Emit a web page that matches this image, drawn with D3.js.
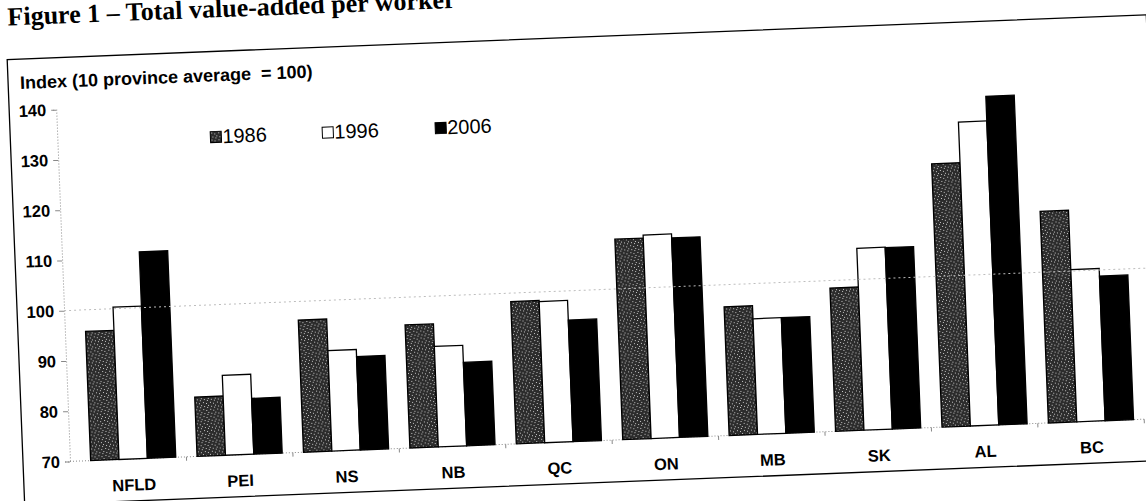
<!DOCTYPE html>
<html><head><meta charset="utf-8">
<script src="https://cdn.jsdelivr.net/npm/d3@7"></script>
<style>body{margin:0;background:#fff;overflow:hidden} svg{display:block}</style>
</head><body>
<svg id="c" width="1146" height="501"></svg>
<script>
const categories = ["NFLD","PEI","NS","NB","QC","ON","MB","SK","AL","BC"];
const seriesNames = ["1986","1996","2006"];
const values1986 = [95.7, 81.8, 96.3, 94.5, 98.3, 109.9, 95.6, 98.5, 122.4, 112.1];
const values1996 = [100.3, 85.9, 90.0, 90.0, 98.1, 110.5, 93.0, 106.2, 130.5, 100.3];
const values2006 = [111.1, 81.1, 88.6, 86.6, 94.2, 109.7, 93.0, 106.1, 135.4, 98.8];
const yTicks = [70, 80, 90, 100, 110, 120, 130, 140];
const referenceValue = 100;
const titleText = "Figure 1 \u2013 Total value-added per worker";
const yTitleText = "Index (10 province average  = 100)";

const seriesValues = [values1986, values1996, values2006];
const rows = categories.map((c, i) => ({cat: c, vals: seriesNames.map((s, j) => ({s, v: seriesValues[j][i]}))}));

const svg = d3.select("#c");
const defs = svg.append("defs");
const pat = defs.append("pattern").attr("id", "speck")
  .attr("patternUnits", "userSpaceOnUse").attr("width", 7).attr("height", 7);
pat.append("rect").attr("width", 7).attr("height", 7).attr("fill", "#2c2c2c");
const specks = [[1,1],[4,2],[2,5],[6,4],[5,6]];
pat.selectAll("rect.d").data(specks).join("rect").attr("class", "d")
  .attr("x", d => d[0]).attr("y", d => d[1]).attr("width", 1).attr("height", 1).attr("fill", "#c8c8c8");

const fills = {"1986": "url(#speck)", "1996": "#ffffff", "2006": "#000000"};

const g = svg.append("g").attr("transform", "rotate(-2.25,80,461)");

// frame
g.append("rect").attr("x", 23).attr("y", 57).attr("width", 1140).attr("height", 446)
  .attr("fill", "none").attr("stroke", "#000").attr("stroke-width", 1.3);

// title
g.append("text").attr("x", 25).attr("y", 23)
  .attr("font-family", "'Liberation Serif', 'Times New Roman', serif")
  .attr("font-weight", "bold").attr("font-size", 26).text(titleText);

// y title
g.append("text").attr("x", 35).attr("y", 87)
  .attr("font-family", "'Liberation Sans', Arial, sans-serif")
  .attr("font-weight", "bold").attr("font-size", 18).style("white-space", "pre").text(yTitleText);

const y = d3.scaleLinear().domain([70, 140]).range([461, 109]);
const x = d3.scaleBand().domain(categories).range([80, 1145]).paddingInner(0.2).paddingOuter(0.1);
const x1 = d3.scaleBand().domain(seriesNames).range([0, x.bandwidth()]);

// y axis
const ya = g.append("g").attr("transform", "translate(70,0)")
  .call(d3.axisLeft(y).tickValues(yTicks).tickSize(5).tickPadding(5));
ya.select(".domain").attr("stroke", "#888").attr("stroke-dasharray", "1,2");
ya.selectAll(".tick line").attr("stroke", "#888");
ya.selectAll(".tick text").attr("font-family", "'Liberation Sans', Arial, sans-serif")
  .attr("font-weight", "bold").attr("font-size", 16.5).attr("fill", "#000");

// x axis
const xa = g.append("g").attr("transform", "translate(0,461)")
  .call(d3.axisBottom(x).tickSize(0).tickPadding(20));
xa.select(".domain").remove();
xa.selectAll(".tick text").attr("font-family", "'Liberation Sans', Arial, sans-serif")
  .attr("font-weight", "bold").attr("font-size", 16.5).attr("fill", "#000");
g.append("line").attr("x1", 70).attr("x2", 1170).attr("y1", 461).attr("y2", 461)
  .attr("stroke", "#888").attr("stroke-dasharray", "1,2");
const gapHalf = x.step() * x.paddingInner() / 2;
g.selectAll("line.sep").data(categories).join("line").attr("class", "sep")
  .attr("x1", d => x(d) + x.bandwidth() + gapHalf).attr("x2", d => x(d) + x.bandwidth() + gapHalf)
  .attr("y1", 461).attr("y2", 465).attr("stroke", "#888");

// bars
const grp = g.selectAll("g.cat").data(rows).join("g").attr("class", "cat")
  .attr("transform", d => `translate(${x(d.cat)},0)`);
grp.selectAll("rect").data(d => d.vals).join("rect")
  .attr("x", d => x1(d.s)).attr("width", x1.bandwidth())
  .attr("y", d => y(d.v)).attr("height", d => y(70) - y(d.v))
  .attr("fill", d => fills[d.s]).attr("stroke", "#000").attr("stroke-width", 1.3);

// reference line at 100
g.append("line").attr("x1", 70).attr("x2", 1170).attr("y1", y(referenceValue)).attr("y2", y(referenceValue))
  .attr("stroke", "#bdbdbd").attr("stroke-width", 1).attr("stroke-dasharray", "2,3");

// legend
const legX = [223, 335, 448];
const leg = g.selectAll("g.leg").data(seriesNames).join("g").attr("class", "leg")
  .attr("transform", (d, i) => `translate(${legX[i]},137)`);
leg.append("rect").attr("width", 11).attr("height", 11)
  .attr("fill", d => fills[d]).attr("stroke", "#000").attr("stroke-width", 1);
leg.append("text").attr("x", 12).attr("y", 12)
  .attr("font-family", "'Liberation Sans', Arial, sans-serif").attr("font-size", 20).text(d => d);
</script>
</body></html>
